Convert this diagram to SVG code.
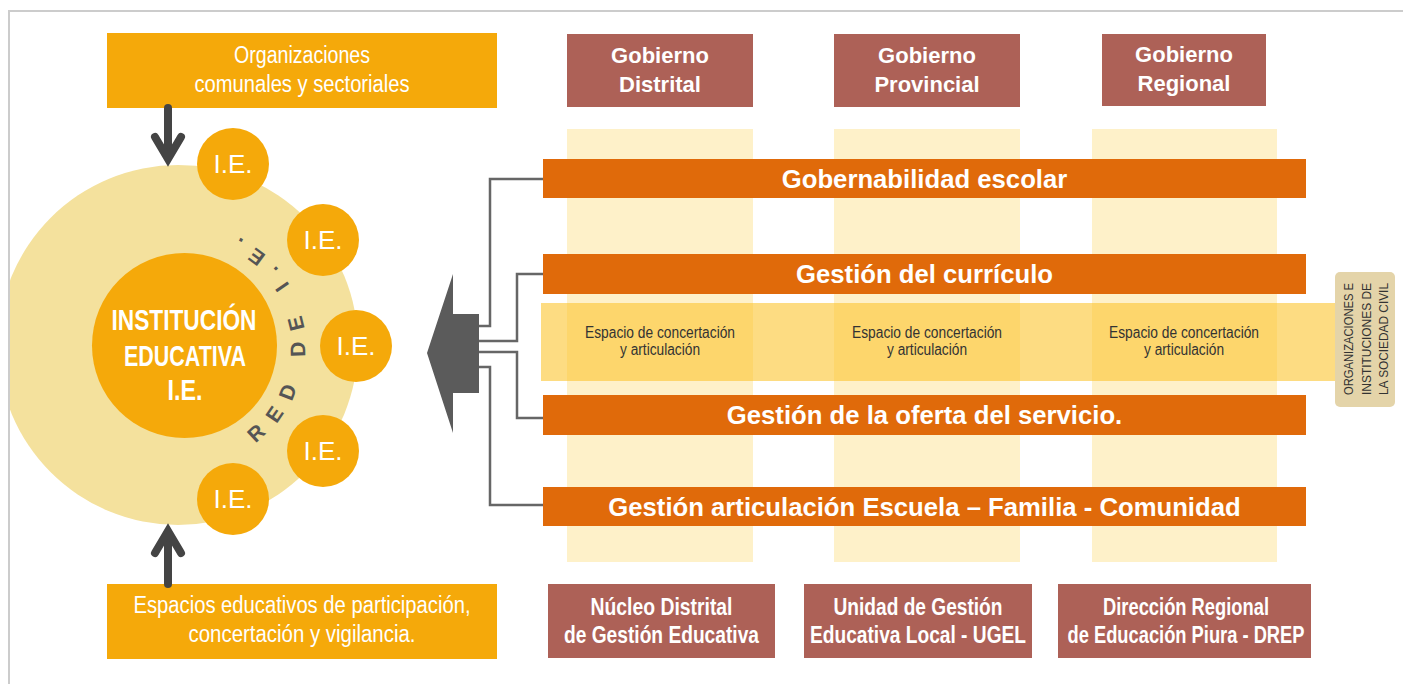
<svg xmlns="http://www.w3.org/2000/svg" width="1403" height="684" viewBox="0 0 1403 684">
<defs>
<style>
.sans{font-family:"Liberation Sans",Arial,sans-serif}
.w{fill:#ffffff}
.orange{fill:#F5A90A}
.bar{fill:#E06A0A}
.brown{fill:#AD6157}
.col{fill:#FEF1C9}
.dk{fill:#333333}
.conn{fill:none;stroke:#666666;stroke-width:2.5}
.arr{fill:none;stroke:#444444;stroke-width:8;stroke-linecap:round;stroke-linejoin:miter}
</style>
<clipPath id="frameClip"><rect x="10" y="12" width="1400" height="680"/></clipPath>
<path id="redArc" d="M255.1,442.9 A121,121 0 0 0 215.3,228.1"/>
</defs>
<rect width="1403" height="684" fill="#ffffff"/>

<g id="red-ie">
<circle cx="178" cy="345" r="180" fill="#F4E19D" clip-path="url(#frameClip)"/>
<text class="sans" font-size="21" font-weight="bold" fill="#555555" letter-spacing="13"><textPath href="#redArc">RED DE I.E.</textPath></text>
</g>
<path d="M9,700 V11 H1410" fill="none" stroke="#cccccc" stroke-width="2"/>

<g id="columns">
<rect class="col" x="567" y="129" width="186" height="433"/>
<rect class="col" x="834" y="129" width="186" height="433"/>
<rect class="col" x="1092" y="129" width="185" height="433"/>
</g>

<g id="org-comunales">
<rect class="orange" x="107" y="33" width="390" height="75"/>
<text class="sans w" font-size="23" text-anchor="middle" x="302" y="63" textLength="136" lengthAdjust="spacingAndGlyphs">Organizaciones</text>
<text class="sans w" font-size="23" text-anchor="middle" x="302" y="92" textLength="215" lengthAdjust="spacingAndGlyphs">comunales y sectoriales</text>
</g>
<g id="espacios-educativos">
<rect class="orange" x="107" y="584" width="390" height="75"/>
<text class="sans w" font-size="23" text-anchor="middle" x="302" y="613" textLength="337" lengthAdjust="spacingAndGlyphs">Espacios educativos de participación,</text>
<text class="sans w" font-size="23" text-anchor="middle" x="302" y="642" textLength="227" lengthAdjust="spacingAndGlyphs">concertación y vigilancia.</text>
</g>

<g id="institucion">
<circle class="orange" cx="184.5" cy="345.5" r="92.5"/>
<text class="sans w" font-size="30" font-weight="bold" text-anchor="middle" x="184" y="330" textLength="145" lengthAdjust="spacingAndGlyphs">INSTITUCIÓN</text>
<text class="sans w" font-size="30" font-weight="bold" text-anchor="middle" x="185" y="366" textLength="122" lengthAdjust="spacingAndGlyphs">EDUCATIVA</text>
<text class="sans w" font-size="30" font-weight="bold" text-anchor="middle" x="185" y="400" textLength="35" lengthAdjust="spacingAndGlyphs">I.E.</text>
</g>
<g id="ie1"><circle class="orange" cx="233" cy="164" r="36"/><text class="sans w" font-size="26" text-anchor="middle" x="233" y="173">I.E.</text></g>
<g id="ie2"><circle class="orange" cx="323" cy="240" r="36"/><text class="sans w" font-size="26" text-anchor="middle" x="323" y="249">I.E.</text></g>
<g id="ie3"><circle class="orange" cx="356" cy="346" r="36"/><text class="sans w" font-size="26" text-anchor="middle" x="356" y="355">I.E.</text></g>
<g id="ie4"><circle class="orange" cx="323" cy="451" r="36"/><text class="sans w" font-size="26" text-anchor="middle" x="323" y="460">I.E.</text></g>
<g id="ie5"><circle class="orange" cx="233" cy="499" r="36"/><text class="sans w" font-size="26" text-anchor="middle" x="233" y="508">I.E.</text></g>

<g id="gob-distrital"><rect class="brown" x="567" y="34" width="186" height="73"/><text class="sans w" font-size="22" font-weight="bold" text-anchor="middle"><tspan x="660" y="63">Gobierno</tspan><tspan x="660" y="92">Distrital</tspan></text></g>
<g id="gob-provincial"><rect class="brown" x="834" y="34" width="186" height="73"/><text class="sans w" font-size="22" font-weight="bold" text-anchor="middle"><tspan x="927" y="63">Gobierno</tspan><tspan x="927" y="92">Provincial</tspan></text></g>
<g id="gob-regional"><rect class="brown" x="1102" y="34" width="164" height="72"/><text class="sans w" font-size="22" font-weight="bold" text-anchor="middle"><tspan x="1184" y="62">Gobierno</tspan><tspan x="1184" y="91">Regional</tspan></text></g>

<g id="espacio-band">
<rect x="541" y="303" width="799" height="78" fill="#FBC52F" opacity="0.6"/>
<text class="sans dk" font-size="16" text-anchor="middle" x="660" y="338" textLength="150" lengthAdjust="spacingAndGlyphs">Espacio de concertación</text>
<text class="sans dk" font-size="16" text-anchor="middle" x="660" y="355" textLength="80" lengthAdjust="spacingAndGlyphs">y articulación</text>
<text class="sans dk" font-size="16" text-anchor="middle" x="927" y="338" textLength="150" lengthAdjust="spacingAndGlyphs">Espacio de concertación</text>
<text class="sans dk" font-size="16" text-anchor="middle" x="927" y="355" textLength="80" lengthAdjust="spacingAndGlyphs">y articulación</text>
<text class="sans dk" font-size="16" text-anchor="middle" x="1184" y="338" textLength="150" lengthAdjust="spacingAndGlyphs">Espacio de concertación</text>
<text class="sans dk" font-size="16" text-anchor="middle" x="1184" y="355" textLength="80" lengthAdjust="spacingAndGlyphs">y articulación</text>
</g>

<g id="bar-gobernabilidad"><rect class="bar" x="543" y="159" width="763" height="39"/><text class="sans w" font-size="25.7" font-weight="bold" text-anchor="middle" x="924.5" y="188">Gobernabilidad escolar</text></g>
<g id="bar-curriculo"><rect class="bar" x="543" y="254" width="763" height="40"/><text class="sans w" font-size="25.7" font-weight="bold" text-anchor="middle" x="924.5" y="283">Gestión del currículo</text></g>
<g id="bar-oferta"><rect class="bar" x="543" y="395" width="763" height="40"/><text class="sans w" font-size="25.7" font-weight="bold" text-anchor="middle" x="924.5" y="424">Gestión de la oferta del servicio.</text></g>
<g id="bar-articulacion"><rect class="bar" x="543" y="487" width="763" height="39"/><text class="sans w" font-size="25.7" font-weight="bold" text-anchor="middle" x="924.5" y="516">Gestión articulación Escuela – Familia - Comunidad</text></g>

<g id="sociedad-civil">
<rect x="1335" y="272" width="60" height="135" rx="5" fill="#E4D4A9"/>
<g transform="translate(1353,339) rotate(-90)">
<text class="sans dk" font-size="13.5" text-anchor="middle" x="0" y="0" textLength="112" lengthAdjust="spacingAndGlyphs">ORGANIZACIONES E</text>
<text class="sans dk" font-size="13.5" text-anchor="middle" x="0" y="17.5" textLength="112" lengthAdjust="spacingAndGlyphs">INSTITUCIONES DE</text>
<text class="sans dk" font-size="13.5" text-anchor="middle" x="0" y="35" textLength="112" lengthAdjust="spacingAndGlyphs">LA SOCIEDAD CIVIL</text>
</g>
</g>

<g id="nucleo"><rect class="brown" x="548" y="584" width="227" height="74"/>
<text class="sans w" font-size="23" font-weight="bold" text-anchor="middle" x="661.5" y="615" textLength="142" lengthAdjust="spacingAndGlyphs">Núcleo Distrital</text>
<text class="sans w" font-size="23" font-weight="bold" text-anchor="middle" x="661.5" y="643" textLength="195" lengthAdjust="spacingAndGlyphs">de Gestión Educativa</text></g>
<g id="ugel"><rect class="brown" x="804" y="584" width="228" height="74"/>
<text class="sans w" font-size="23" font-weight="bold" text-anchor="middle" x="918" y="615" textLength="169" lengthAdjust="spacingAndGlyphs">Unidad de Gestión</text>
<text class="sans w" font-size="23" font-weight="bold" text-anchor="middle" x="918" y="643" textLength="216" lengthAdjust="spacingAndGlyphs">Educativa Local - UGEL</text></g>
<g id="drep"><rect class="brown" x="1058" y="584" width="253" height="74"/>
<text class="sans w" font-size="23" font-weight="bold" text-anchor="middle" x="1186" y="615" textLength="166" lengthAdjust="spacingAndGlyphs">Dirección Regional</text>
<text class="sans w" font-size="23" font-weight="bold" text-anchor="middle" x="1186" y="643" textLength="237" lengthAdjust="spacingAndGlyphs">de Educación Piura - DREP</text></g>

<g id="big-arrow"><polygon points="427,353 453,274 453,314 479,314 479,393 453,393 453,433" fill="#5B5B5B"/></g>

<g id="connectors">
<path class="conn" d="M479,326 H490 V179 H543"/>
<path class="conn" d="M479,341 H517 V274 H543"/>
<path class="conn" d="M479,352 H517 V418 H543"/>
<path class="conn" d="M479,367 H490 V505 H543"/>
<path class="arr" d="M168,108 V156"/>
<path class="arr" d="M155,137 L168,159 L181,137"/>
<path class="arr" d="M168,584 V534"/>
<path class="arr" d="M155,553 L168,531 L181,553"/>
</g>
</svg>
